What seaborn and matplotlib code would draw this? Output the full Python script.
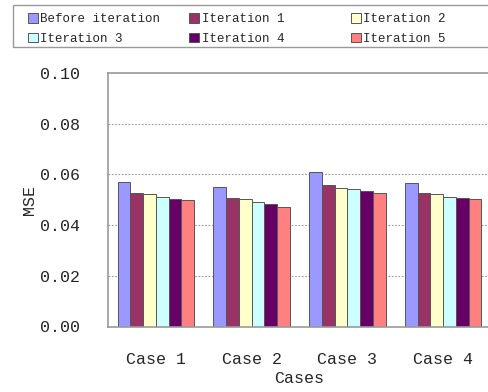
import numpy as np
import pandas as pd
import matplotlib
matplotlib.use("Agg")
import matplotlib.pyplot as plt
from matplotlib.patches import Rectangle
import seaborn as sns

# Data
cases = ['Case 1', 'Case 2', 'Case 3', 'Case 4']
series = ['Before iteration', 'Iteration 1', 'Iteration 2',
          'Iteration 3', 'Iteration 4', 'Iteration 5']
before_iter = [0.0571, 0.0551, 0.0611, 0.0565]
iter_1 = [0.0528, 0.0508, 0.0557, 0.0528]
iter_2 = [0.0523, 0.0503, 0.0548, 0.0521]
iter_3 = [0.0512, 0.0490, 0.0541, 0.0512]
iter_4 = [0.0504, 0.0482, 0.0533, 0.0507]
iter_5 = [0.0498, 0.0473, 0.0528, 0.0503]
colors = ['#9999FF', '#993366', '#FFFFCC', '#CCFFFF', '#660066', '#FF8080']

# Long-form table for seaborn
rows = []
for name, vals in zip(series, [before_iter, iter_1, iter_2, iter_3, iter_4, iter_5]):
    for c, v in zip(cases, vals):
        rows.append({'Cases': c, 'Series': name, 'MSE': v})
df = pd.DataFrame(rows)

sns.set_style("white")
plt.rcParams['font.family'] = ['Liberation Mono', 'DejaVu Sans Mono']

fig = plt.figure(figsize=(4.88, 3.92), dpi=100)
ax = fig.add_axes([108/488, 1 - 326.5/392, (491 - 108)/488, (326.5 - 73)/392])

sns.barplot(data=df, x='Cases', y='MSE', hue='Series', hue_order=series,
            order=cases, palette=colors, saturation=1, width=0.8,
            edgecolor='#555555', linewidth=0.7, ax=ax, errorbar=None)

ax.set_ylim(0, 0.10)
ax.set_xlim(-0.5, 3.5)
ax.set_yticks(np.arange(0, 0.101, 0.02))
ax.set_yticklabels([f"{v:.2f}" for v in np.arange(0, 0.101, 0.02)], fontsize=12)
ax.tick_params(axis='y', direction='in', length=3, color='#888888', pad=20)
ax.tick_params(axis='x', length=0, labelsize=12, pad=18)
ax.set_xticks([0.5, 1.5, 2.5], minor=True)
ax.tick_params(axis='x', which='minor', direction='in', length=4, color='#888888')
for y in [0.02, 0.04, 0.06, 0.08]:
    ax.axhline(y, color='#999999', linestyle=(0, (1.5, 1.5)), linewidth=0.8, zorder=0)
for s in ax.spines.values():
    s.set_color('#999999')
    s.set_linewidth(1.2)
ax.set_xlabel('Cases', fontsize=12, labelpad=3)
ax.set_ylabel('MSE', fontsize=12, labelpad=2)

# legend filled row by row, equal-width columns like the original
handles, labels = ax.get_legend_handles_labels()
ax.get_legend().remove()
order = [0, 3, 1, 4, 2, 5]
handles = [handles[i] for i in order]
labels = [labels[i].ljust(16) for i in order]
leg = fig.legend(handles, labels, loc='upper left', ncol=3,
                 bbox_to_anchor=(28/488, 1 - 13/392),
                 fontsize=9, handlelength=0.8, handleheight=0.8, handletextpad=0.2,
                 columnspacing=2.3, borderpad=0, labelspacing=0.6,
                 frameon=False, borderaxespad=0)
# legend box runs off the right edge in the original
fig.patches.append(Rectangle((13/488, 1 - 47/392), 1.0, 42/392, transform=fig.transFigure,
                             fill=False, edgecolor='#999999', linewidth=1.0))

fig.savefig('out.png', dpi=100)
